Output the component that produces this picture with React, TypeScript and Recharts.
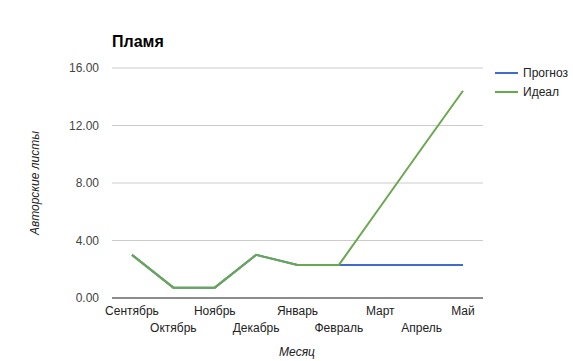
import React from 'react';
import { LineChart, Line, XAxis, YAxis, CartesianGrid, Legend } from 'recharts';

const months = ['Сентябрь', 'Октябрь', 'Ноябрь', 'Декабрь', 'Январь', 'Февраль', 'Март', 'Апрель', 'Май'];
const forecast = [3.0, 0.72, 0.72, 3.0, 2.3, 2.3, 2.3, 2.3, 2.3];
const ideal = [3.0, 0.72, 0.72, 3.0, 2.3, 2.3, 6.35, 10.4, 14.42];
const yTicks = [0, 4, 8, 12, 16];

const FONT = 'Arial, "Liberation Sans", sans-serif';
const BLUE = '#3d6cc9';
const GREEN = '#6aa84f';

const data = months.map((month, i) => ({
  month,
  forecast: forecast[i],
  ideal: ideal[i],
}));

const MonthTick = (props: any) => {
  const { x, y, payload, index } = props;
  return (
    <text x={x} y={y + (index % 2 ? 34 : 17)} textAnchor="middle" fontSize={12} fill="#222" fontFamily={FONT}>
      {payload.value}
    </text>
  );
};

const ValueTick = (props: any) => {
  const { x, y, payload } = props;
  return (
    <text x={x} y={y + 4} textAnchor="end" fontSize={12} fill="#444" fontFamily={FONT}>
      {Number(payload.value).toFixed(2)}
    </text>
  );
};

const LegendBox = () => {
  const items = [
    { label: 'Прогноз', color: BLUE },
    { label: 'Идеал', color: GREEN },
  ];
  return (
    <svg width={80} height={40}>
      {items.map((it, i) => (
        <g key={it.label}>
          <line x1={0} x2={23} y1={9 + i * 19} y2={9 + i * 19} stroke={it.color} strokeWidth={2} />
          <text x={28} y={13 + i * 19} fontSize={12} fill="#222" fontFamily={FONT}>
            {it.label}
          </text>
        </g>
      ))}
    </svg>
  );
};

export default function App() {
  return (
    <div style={{ position: 'absolute', left: 0, top: 0, width: 573, height: 361, background: '#fff' }}>
      <div
        style={{
          position: 'absolute',
          left: 112,
          top: 33,
          fontFamily: FONT,
          fontWeight: 'bold',
          fontSize: 16,
          color: '#000',
          zIndex: 2,
        }}
      >
        Пламя
      </div>
      <LineChart width={573} height={361} data={data} margin={{ top: 68, right: 90, bottom: 0, left: 0 }}>
        <CartesianGrid horizontal vertical={false} stroke="#cccccc" />
        <XAxis
          dataKey="month"
          interval={0}
          tickLine={false}
          tickSize={0}
          tickMargin={0}
          height={63}
          axisLine={{ stroke: '#333', strokeWidth: 1 }}
          tick={<MonthTick />}
          padding={{ left: 20, right: 20 }}
          label={(p: any) => (
            <text x={297} y={356} textAnchor="middle" fontSize={12} fontStyle="italic" fill="#222" fontFamily={FONT}>
              Месяц
            </text>
          )}
        />
        <YAxis
          domain={[0, 16]}
          ticks={yTicks}
          width={112}
          axisLine={false}
          tickLine={false}
          tickSize={0}
          tickMargin={13}
          tick={<ValueTick />}
          label={(p: any) => (
            <text
              x={39}
              y={183}
              transform="rotate(-90 39 183)"
              textAnchor="middle"
              fontSize={12}
              fontStyle="italic"
              fill="#222"
              fontFamily={FONT}
            >
              Авторские листы
            </text>
          )}
        />
        <Legend
          layout="vertical"
          align="center"
          verticalAlign="middle"
          wrapperStyle={{ left: 495, top: 64, width: 80, height: 40 }}
          content={<LegendBox />}
        />
        <Line type="linear" dataKey="forecast" stroke={BLUE} strokeWidth={2} dot={false} isAnimationActive={false} />
        <Line type="linear" dataKey="ideal" stroke={GREEN} strokeWidth={2} dot={false} isAnimationActive={false} />
      </LineChart>
    </div>
  );
}
